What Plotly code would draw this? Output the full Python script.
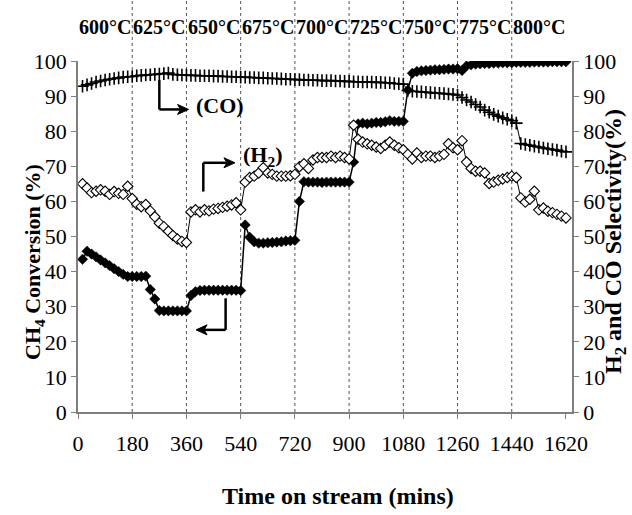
import plotly.graph_objects as go

time_min = [15, 30, 45, 60, 75, 90, 105, 120, 135, 150, 165, 180,
            195, 210, 225, 240, 255, 270, 285, 300, 315, 330, 345, 360,
            375, 390, 405, 420, 435, 450, 465, 480, 495, 510, 525, 540,
            555, 570, 585, 600, 615, 630, 645, 660, 675, 690, 705, 720,
            735, 750, 765, 780, 795, 810, 825, 840, 855, 870, 885, 900,
            915, 930, 945, 960, 975, 990, 1005, 1020, 1035, 1050, 1065, 1080,
            1095, 1110, 1125, 1140, 1155, 1170, 1185, 1200, 1215, 1230, 1245, 1260,
            1275, 1290, 1305, 1320, 1335, 1350, 1365, 1380, 1395, 1410, 1425, 1440,
            1455, 1470, 1485, 1500, 1515, 1530, 1545, 1560, 1575, 1590, 1605, 1620]

ch4_conversion = [43.5, 45.8, 45.0, 44.2, 43.3, 42.5, 41.7, 40.8, 40.0, 39.2, 38.6, 38.6,
                  38.6, 38.6, 38.7, 34.9, 32.2, 28.9, 28.8, 28.8, 28.8, 28.8, 28.8, 28.8,
                  33.2, 34.3, 34.6, 34.7, 34.7, 34.7, 34.7, 34.7, 34.7, 34.7, 34.7, 34.6,
                  53.3, 49.8, 48.5, 48.1, 48.1, 48.2, 48.3, 48.4, 48.5, 48.7, 48.8, 48.9,
                  60.0, 65.6, 65.5, 65.5, 65.5, 65.4, 65.5, 65.5, 65.5, 65.5, 65.5, 65.5,
                  71.2, 82.1, 82.3, 82.1, 82.3, 82.5, 82.5, 82.7, 83.0, 82.8, 82.8, 82.8,
                  91.7, 96.5, 97.0, 97.2, 97.3, 97.4, 97.5, 97.5, 97.6, 97.7, 97.7, 97.8,
                  97.3, 98.6, 98.9, 99.1, 99.2, 99.3, 99.3, 99.4, 99.4, 99.5, 99.5, 99.5,
                  99.6, 99.6, 99.6, 99.6, 99.7, 99.7, 99.7, 99.7, 99.8, 99.8, 99.8, 99.8]

h2_selectivity = [65.0, 63.8, 62.5, 62.9, 63.3, 62.9, 62.0, 62.8, 62.3, 62.0, 64.3, 60.8,
                  59.2, 58.5, 59.1, 57.3, 55.6, 53.8, 52.8, 51.5, 50.3, 49.3, 48.6, 48.3,
                  57.0, 57.6, 57.0, 57.6, 57.3, 57.8, 58.0, 58.3, 58.6, 59.0, 59.6, 57.6,
                  65.5, 66.8, 67.2, 68.1, 69.6, 68.1, 67.7, 67.2, 67.2, 67.2, 67.3, 67.7,
                  69.9, 70.7, 69.4, 71.8, 72.5, 72.5, 72.5, 72.9, 72.5, 72.9, 72.5, 72.1,
                  81.7, 77.7, 76.9, 76.4, 76.0, 75.5, 75.1, 76.0, 76.9, 76.0, 75.3, 74.7,
                  73.4, 72.1, 73.8, 72.5, 72.9, 72.9, 72.5, 72.9, 73.4, 76.4, 75.3, 74.7,
                  77.3, 71.2, 69.4, 68.6, 68.6, 68.1, 65.1, 65.5, 66.0, 66.4, 66.8, 67.2,
                  66.8, 61.0, 59.8, 60.6, 62.9, 57.6, 58.1, 57.2, 56.8, 56.3, 55.8, 55.3]

co_selectivity = [92.8, 93.2, 93.6, 94.0, 94.3, 94.6, 94.8, 95.0, 95.2, 95.4, 95.5, 95.6,
                  95.8, 95.9, 96.0, 96.1, 96.2, 96.3, 96.4, 96.6, 96.2, 96.1, 96.0, 96.0,
                  95.9, 95.9, 95.8, 95.8, 95.8, 95.7, 95.7, 95.6, 95.6, 95.5, 95.5, 95.4,
                  95.4, 95.3, 95.3, 95.2, 95.2, 95.1, 95.0, 95.0, 94.9, 94.8, 94.8, 94.7,
                  94.7, 94.6, 94.6, 94.5, 94.5, 94.4, 94.4, 94.4, 94.3, 94.3, 94.2, 94.2,
                  94.1, 94.1, 94.0, 94.0, 94.0, 93.9, 93.9, 93.8, 93.8, 93.6, 93.5, 93.4,
                  91.6, 91.4, 91.3, 91.2, 91.1, 91.0, 90.9, 90.8, 90.7, 90.6, 90.5, 90.3,
                  89.6, 88.9, 88.3, 87.6, 86.9, 86.0, 85.4, 84.8, 84.3, 83.8, 83.4, 83.0,
                  82.3, 76.5, 76.2, 76.0, 75.7, 75.5, 75.2, 75.0, 74.8, 74.6, 74.3, 74.1]

temp_labels = ["600°C", "625°C", "650°C", "675°C", "700°C", "725°C", "750°C", "775°C", "800°C"]
temp_centers = [90, 270, 450, 630, 810, 990, 1170, 1350, 1530]
stage_bounds = [180, 360, 540, 720, 900, 1080, 1260, 1440]
x_ticks = [0, 180, 360, 540, 720, 900, 1080, 1260, 1440, 1620]
y_ticks = [0, 10, 20, 30, 40, 50, 60, 70, 80, 90, 100]

FONT = "Liberation Serif"
W, H = 632, 515
ML, MR, MT, MB = 78, 60, 61, 103
PH = H - MT - MB
PW = W - ML - MR

fig = go.Figure()

fig.add_trace(go.Scatter(
    x=time_min, y=co_selectivity, mode="lines+markers", yaxis="y2",
    line=dict(color="black", width=1),
    marker=dict(symbol="cross-thin", size=9, line=dict(color="black", width=1.6)),
    showlegend=False))
fig.add_trace(go.Scatter(
    x=time_min, y=h2_selectivity, mode="lines+markers", yaxis="y2",
    line=dict(color="black", width=1),
    marker=dict(symbol="diamond", size=8, color="white", line=dict(color="black", width=1.1)),
    showlegend=False))
fig.add_trace(go.Scatter(
    x=time_min, y=ch4_conversion, mode="lines+markers",
    line=dict(color="black", width=1.5),
    marker=dict(symbol="diamond", size=8, color="black", line=dict(color="black", width=0.5)),
    showlegend=False))

shapes = []
for b in stage_bounds:
    shapes.append(dict(type="line", xref="x", yref="paper", x0=b, x1=b, y0=0, y1=1 + MT / PH,
                       line=dict(color="#555555", width=1, dash="dot"), layer="below"))


def bracket(x, y_start, y_corner, x_tip):
    # vertical stem, horizontal stem, and an arrowhead at the tip
    shapes.append(dict(type="line", xref="x", yref="y", x0=x, x1=x, y0=y_start, y1=y_corner,
                       line=dict(color="black", width=2.5)))
    d = 1 if x_tip > x else -1
    shapes.append(dict(type="line", xref="x", yref="y", x0=x, x1=x_tip - d * 12, y0=y_corner,
                       y1=y_corner, line=dict(color="black", width=2.5)))
    shapes.append(dict(type="path", xref="x", yref="y", xsizemode="pixel", ysizemode="pixel",
                       xanchor=x_tip, yanchor=y_corner,
                       path=f"M 0 0 L {-d * 11} 5 L {-d * 8} 0 L {-d * 11} -5 Z",
                       fillcolor="black", line=dict(color="black", width=1)))


bracket(270, 94.6, 86.2, 367)
bracket(416, 62.8, 71.0, 521)
bracket(490, 32.4, 23.4, 392)

annotations = []
annotations.append(dict(x=386, y=87.3, xref="x", yref="y", text="<b>(CO)</b>", showarrow=False,
                        xanchor="left", yanchor="middle", font=dict(family=FONT, size=22, color="black")))
annotations.append(dict(x=541, y=73.0, xref="x", yref="y", text="<b>(H<sub>2</sub>)</b>", showarrow=False,
                        xanchor="left", yanchor="middle", font=dict(family=FONT, size=22, color="black")))

for lab, c in zip(temp_labels, temp_centers):
    annotations.append(dict(x=c, y=(H - MB - 27) / PH, xref="x", yref="paper", text="<b>" + lab + "</b>",
                            showarrow=False, xanchor="center", yanchor="middle",
                            font=dict(family=FONT, size=20, color="black")))

annotations.append(dict(x=(338 - ML) / PW, y=(H - MB - 496) / PH, xref="paper", yref="paper",
                        text="<b>Time on stream (mins)</b>", showarrow=False, xanchor="center", yanchor="middle",
                        font=dict(family=FONT, size=24, color="black")))
annotations.append(dict(x=(34 - ML) / PW, y=(H - MB - 262) / PH, xref="paper", yref="paper",
                        text="<b>CH<sub>4</sub> Conversion (%)</b>", showarrow=False, textangle=-90,
                        xanchor="center", yanchor="middle", font=dict(family=FONT, size=22, color="black")))
annotations.append(dict(x=(615 - ML) / PW, y=(H - MB - 242) / PH, xref="paper", yref="paper",
                        text="<b>H<sub>2</sub> and CO Selectivity(%)</b>", showarrow=False, textangle=-90,
                        xanchor="center", yanchor="middle", font=dict(family=FONT, size=24, color="black")))

axis_common = dict(showline=True, linecolor="#7f7f7f", linewidth=1.5, ticks="outside", ticklen=5,
                   tickcolor="#7f7f7f", showgrid=False, zeroline=False,
                   tickfont=dict(family=FONT, size=22, color="black"))

fig.update_layout(
    width=W, height=H,
    margin=dict(l=ML, r=MR, t=MT, b=MB),
    paper_bgcolor="white", plot_bgcolor="white",
    xaxis=dict(range=[0, 1640], tickvals=x_ticks, ticklabelstandoff=6, **axis_common),
    yaxis=dict(range=[0, 100], tickvals=y_ticks, **axis_common),
    yaxis2=dict(range=[0, 100], tickvals=y_ticks, overlaying="y", side="right", **axis_common),
    shapes=shapes,
    annotations=annotations,
)

fig.write_html("out.html")
